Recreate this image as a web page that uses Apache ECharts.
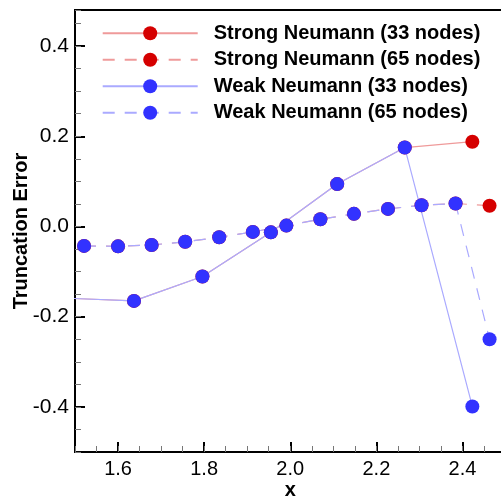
<!DOCTYPE html>
<html>
<head>
<meta charset="utf-8">
<script src="https://cdn.jsdelivr.net/npm/echarts@6/dist/echarts.min.js"></script>
<style>
html,body{margin:0;padding:0;overflow:hidden;background:#fff;}
#c{width:520px;height:500px;}
</style>
</head>
<body>
<div id="c"></div>
<script>
// ---- data ----
var seriesNames = ['Strong Neumann (33 nodes)', 'Strong Neumann (65 nodes)', 'Weak Neumann (33 nodes)', 'Weak Neumann (65 nodes)'];
var x33 = [1.48, 1.637, 1.796, 1.955, 2.109, 2.266, 2.423];
var strong33 = [-0.159, -0.165, -0.111, -0.013, 0.094, 0.175, 0.188];
var weak33 = [-0.159, -0.165, -0.111, -0.013, 0.094, 0.175, -0.399];
var x65 = [1.521, 1.600, 1.678, 1.756, 1.835, 1.913, 1.991, 2.070, 2.148, 2.227, 2.305, 2.384, 2.463];
var strong65 = [-0.043, -0.044, -0.041, -0.034, -0.024, -0.012, 0.002, 0.016, 0.028, 0.039, 0.047, 0.051, 0.046];
var weak65 = [-0.043, -0.044, -0.041, -0.034, -0.024, -0.012, 0.002, 0.016, 0.028, 0.039, 0.047, 0.051, -0.250];
var xTicks = [1.6, 1.8, 2.0, 2.2, 2.4];
var yTicks = [-0.4, -0.2, 0.0, 0.2, 0.4];

function pairs(xs, ys) { return xs.map(function (x, i) { return [x, ys[i]]; }); }

var FONT = "'Liberation Sans', Arial, Helvetica, sans-serif";
var RED = '#d50000', RED_LINE = '#ef9a9a';
var BLUE = '#3232ff', BLUE_LINE = '#aaaaff';

function mk(name, data, color, lineColor, dashed) {
  return {
    name: name, type: 'line', data: data,
    xAxisIndex: 0, yAxisIndex: 0,
    symbol: 'circle', symbolSize: 14,
    itemStyle: { color: color },
    lineStyle: { color: lineColor, width: 1.2, type: dashed ? [12, 10] : 'solid' },
    emphasis: { disabled: true },
    animation: false, clip: true
  };
}

var chart = echarts.init(document.getElementById('c'), null, { renderer: 'canvas' });
chart.setOption({
  animation: false,
  backgroundColor: '#fff',
  textStyle: { fontFamily: FONT },
  grid: { left: 75, right: 14.5, top: 10, bottom: 48, show: true, borderColor: '#000', borderWidth: 2, containLabel: false, outerBoundsMode: 'none' },
  legend: {
    data: seriesNames, orient: 'vertical', left: 101.7, top: 23.3, padding: 0,
    itemWidth: 95, itemHeight: 17.5, itemGap: 6.5, selectedMode: false,
    textStyle: { fontSize: 20, fontWeight: 'bold', color: '#000', fontFamily: FONT, lineHeight: 20, padding: [0, 0, 0, 11] }
  },
  xAxis: [{
    type: 'value', min: 1.5, max: 2.5, position: 'bottom',
    name: 'x', nameLocation: 'middle', nameGap: 28, nameMoveOverlap: false,
    nameTextStyle: { fontSize: 20, fontWeight: 'bold', color: '#000', fontFamily: FONT },
    axisLine: { show: true, onZero: false, lineStyle: { color: '#000', width: 2 } },
    axisTick: { show: true, inside: true, length: 10, customValues: xTicks, lineStyle: { color: '#000', width: 2 } },
    axisLabel: { customValues: xTicks, fontSize: 20, color: '#000', margin: 7, fontFamily: FONT, formatter: function (v) { return v.toFixed(1); } },
    splitLine: { show: false }
  }, {
    type: 'value', min: 1.5, max: 2.5, interval: 0.05, position: 'bottom', offset: 0,
    axisLine: { show: false, onZero: false },
    axisTick: { show: true, inside: true, length: 6, lineStyle: { color: '#777', width: 1 } },
    axisLabel: { show: false }, splitLine: { show: false }
  }],
  yAxis: [{
    type: 'value', min: -0.5, max: 0.48, position: 'left',
    name: 'Truncation Error', nameLocation: 'middle', nameGap: 44, nameMoveOverlap: false,
    nameTextStyle: { fontSize: 20, fontWeight: 'bold', color: '#000', fontFamily: FONT },
    axisLine: { show: true, onZero: false, lineStyle: { color: '#000', width: 2 } },
    axisTick: { show: true, inside: true, length: 10, customValues: yTicks, lineStyle: { color: '#000', width: 2 } },
    axisLabel: { customValues: yTicks, fontSize: 21, color: '#000', margin: 6, fontFamily: FONT, formatter: function (v) { return v.toFixed(1); } },
    splitLine: { show: false }
  }, {
    type: 'value', min: -0.5, max: 0.48, interval: 0.05, position: 'left', offset: 0,
    axisLine: { show: false, onZero: false },
    axisTick: { show: true, inside: true, length: 6, lineStyle: { color: '#777', width: 1 } },
    axisLabel: { show: false }, splitLine: { show: false }
  }],
  series: [
    mk(seriesNames[0], pairs(x33, strong33), RED, RED_LINE, false),
    mk(seriesNames[1], pairs(x65, strong65), RED, RED_LINE, true),
    mk(seriesNames[2], pairs(x33, weak33), BLUE, BLUE_LINE, false),
    mk(seriesNames[3], pairs(x65, weak65), BLUE, BLUE_LINE, true)
  ]
});
</script>
</body>
</html>
